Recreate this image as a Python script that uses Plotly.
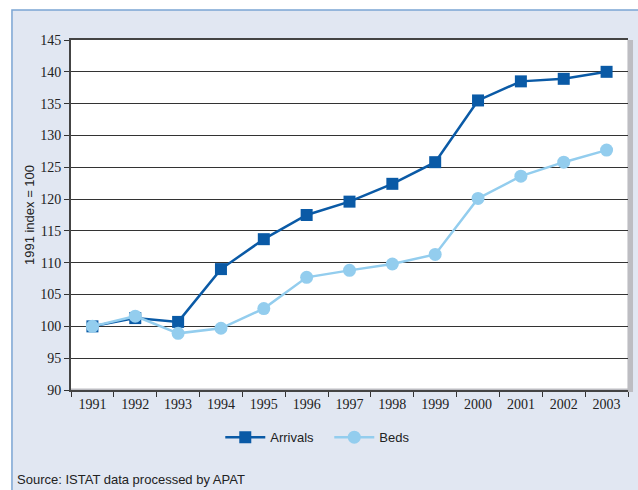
import plotly.graph_objects as go

years = ['1991', '1992', '1993', '1994', '1995', '1996', '1997',
         '1998', '1999', '2000', '2001', '2002', '2003']
arrivals = [100, 101.3, 100.7, 109.0, 113.7, 117.5, 119.6,
            122.4, 125.8, 135.5, 138.5, 138.9, 140.0]
beds = [100, 101.6, 98.9, 99.7, 102.8, 107.7, 108.8,
        109.8, 111.3, 120.1, 123.6, 125.8, 127.7]

serif = 'Liberation Serif, Times New Roman, serif'
narrow = 'Liberation Sans Narrow, Liberation Sans, Arial, sans-serif'

traces = [
    go.Scatter(x=years, y=arrivals, name='Arrivals', mode='lines+markers',
               line=dict(color='#0A5AA6', width=2.5),
               marker=dict(symbol='square', size=12, color='#0A5AA6')),
    go.Scatter(x=years, y=beds, name='Beds', mode='lines+markers',
               line=dict(color='#93CDEE', width=2.5),
               marker=dict(symbol='circle', size=13, color='#93CDEE')),
]

fig = go.Figure(data=traces)

# panel background, plot-area shadow and white plot area (order matters)
fig.add_shape(type='rect', xref='paper', yref='paper', x0=-0.106, x1=1.1, y0=-0.4, y1=1.086,
              fillcolor='#E1E7F2', line=dict(color='#7BA5D3', width=1.5), layer='below')
fig.add_shape(type='rect', xref='paper', yref='paper', x0=0.0, x1=1.009, y0=-0.006, y1=1.0,
              fillcolor='#BDBDC2', line=dict(width=0), layer='below')
fig.add_shape(type='rect', xref='paper', yref='paper', x0=0.0, x1=0.999, y0=0.004, y1=1.0,
              fillcolor='white', line=dict(width=0), layer='below')

fig.add_annotation(text='Source: ISTAT data processed by APAT', xref='paper', yref='paper',
                   x=-0.1, y=-0.255, xanchor='left', yanchor='middle', showarrow=False,
                   font=dict(family=narrow, size=13, color='#222222'))

fig.update_layout(
    width=638, height=490,
    margin=dict(l=71, r=10, t=40, b=100),
    paper_bgcolor='white', plot_bgcolor='rgba(0,0,0,0)',
    showlegend=True,
    legend=dict(orientation='h', x=0.268, y=-0.135, xanchor='left', yanchor='middle',
                font=dict(family=narrow, size=13, color='#222222'),
                bgcolor='rgba(0,0,0,0)', itemwidth=40, entrywidth=54, tracegroupgap=0),
    xaxis=dict(type='category', range=[-0.5, 12.5], tickson='boundaries', ticks='outside',
               ticklen=5, tickcolor='#333333', showline=True, linecolor='#444444', linewidth=2,
               mirror=True, showgrid=False, zeroline=False,
               tickfont=dict(family=serif, size=14, color='#222222')),
    yaxis=dict(range=[90, 145], dtick=5, ticks='outside', ticklen=5, tickcolor='#333333',
               showline=True, linecolor='#444444', linewidth=2, showgrid=True,
               gridcolor='#333333', gridwidth=1, zeroline=False,
               tickfont=dict(family=serif, size=14, color='#222222'),
               title=dict(text='1991 index = 100', standoff=3,
                          font=dict(family=narrow, size=13, color='#222222'))),
)

# drop the default page margin so the figure sits at the window's corner
fig.write_html('out.html', config={'displayModeBar': False},
               post_script="document.body.style.margin='0';")
